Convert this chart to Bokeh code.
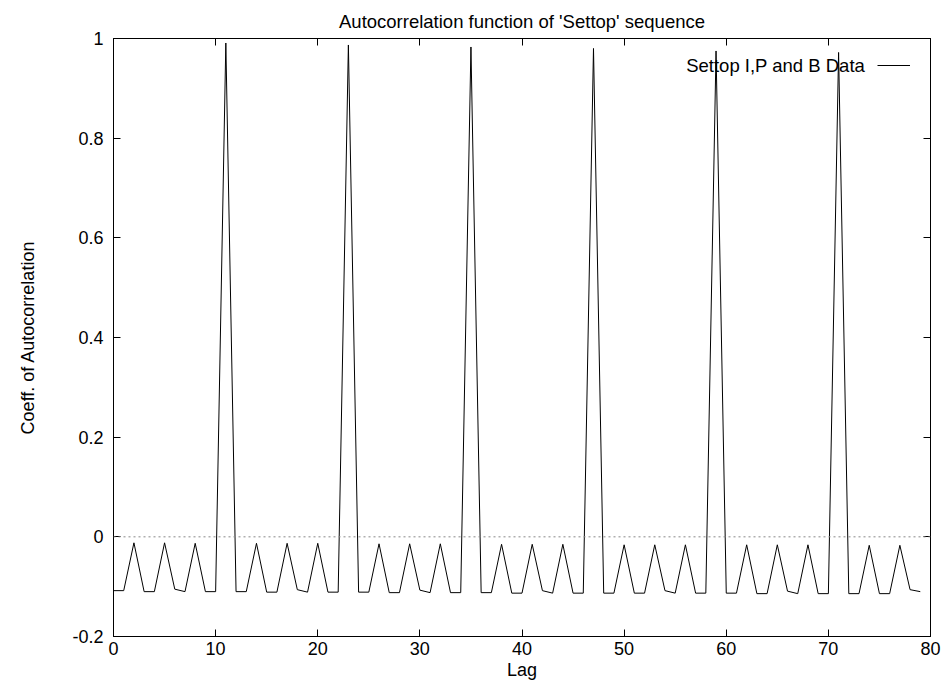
from bokeh.plotting import figure
from bokeh.models import (ColumnDataSource, Span, Legend, LegendItem, LinearAxis,
                          FixedTicker, PrintfTickFormatter, Range1d, Label)
from bokeh.embed import file_html
from bokeh.resources import INLINE

title_text = "Autocorrelation function of 'Settop' sequence"
x_label = "Lag"
y_label = "Coeff. of Autocorrelation"
series_name = "Settop I,P and B Data"

lags = list(range(80))
acf = [
    -0.108, -0.108, -0.012, -0.110, -0.110, -0.012, -0.105, -0.110, -0.013, -0.110,
    -0.110, 0.991, -0.110, -0.110, -0.013, -0.111, -0.111, -0.013, -0.106, -0.111,
    -0.013, -0.111, -0.111, 0.987, -0.111, -0.111, -0.014, -0.112, -0.112, -0.014,
    -0.107, -0.112, -0.014, -0.112, -0.112, 0.983, -0.112, -0.112, -0.015, -0.113,
    -0.113, -0.015, -0.108, -0.113, -0.015, -0.113, -0.113, 0.980, -0.113, -0.113,
    -0.016, -0.113, -0.113, -0.016, -0.108, -0.113, -0.016, -0.113, -0.113, 0.975,
    -0.113, -0.113, -0.016, -0.114, -0.114, -0.016, -0.109, -0.114, -0.016, -0.114,
    -0.114, 0.972, -0.114, -0.114, -0.017, -0.114, -0.114, -0.017, -0.106, -0.110,
]
x_ticks = [0, 10, 20, 30, 40, 50, 60, 70, 80]
y_ticks = [-0.2, 0, 0.2, 0.4, 0.6, 0.8, 1]

FONT = "Liberation Sans"
FS = "18px"

p = figure(width=943, height=683, output_backend="svg", toolbar_location=None,
           x_range=Range1d(0, 80), y_range=Range1d(-0.2, 1),
           min_border_left=113, min_border_right=13, min_border_top=38,
           min_border_bottom=47, background_fill_color="white",
           border_fill_color="white")
p.grid.visible = False
p.outline_line_color = "black"
p.outline_line_width = 1

p.title.text = title_text
p.title.align = "center"
p.title.text_font = FONT
p.title.text_font_size = "18.5px"
p.title.text_font_style = "normal"
p.title.text_color = "black"
p.title.standoff = 13

src = ColumnDataSource(dict(lag=lags, acf=acf))

zero = Span(location=0, dimension="width", line_color="#888888",
            line_dash="2 3", line_width=1)
p.add_layout(zero)

r = p.line("lag", "acf", source=src, line_color="black", line_width=1)

for ax in (p.xaxis[0], p.yaxis[0]):
    ax.major_tick_in = 7
    ax.major_tick_out = 0
    ax.minor_tick_in = 0
    ax.minor_tick_out = 0
    ax.axis_line_color = "black"
    ax.major_tick_line_color = "black"
    ax.major_label_text_font = FONT
    ax.major_label_text_font_size = FS
    ax.major_label_text_color = "black"
    ax.axis_label_text_font = FONT
    ax.axis_label_text_font_size = FS
    ax.axis_label_text_font_style = "normal"
    ax.axis_label_text_color = "black"

p.xaxis[0].ticker = FixedTicker(ticks=x_ticks)
p.yaxis[0].ticker = FixedTicker(ticks=y_ticks)
p.xaxis[0].formatter = PrintfTickFormatter(format="%g")
p.yaxis[0].formatter = PrintfTickFormatter(format="%g")
p.xaxis[0].axis_label = x_label
p.yaxis[0].axis_label = y_label
p.xaxis[0].major_label_standoff = 5
p.xaxis[0].axis_label_standoff = 2
p.yaxis[0].major_label_standoff = 10
p.yaxis[0].axis_label_standoff = 31

# mirrored ticks on top and right (no labels)
top_ax = LinearAxis(ticker=FixedTicker(ticks=x_ticks), major_tick_in=7,
                    major_tick_out=0, minor_tick_in=0, minor_tick_out=0,
                    formatter=PrintfTickFormatter(format=""),
                    major_label_standoff=0, axis_line_color="black")
right_ax = LinearAxis(ticker=FixedTicker(ticks=y_ticks), major_tick_in=7,
                      major_tick_out=0, minor_tick_in=0, minor_tick_out=0,
                      formatter=PrintfTickFormatter(format=""),
                      major_label_standoff=0, axis_line_color="black")
p.add_layout(top_ax, "above")
p.add_layout(right_ax, "right")

# legend: text on left, sample line on right (gnuplot style)
legend = Legend(items=[LegendItem(label=" ", renderers=[r])],
                location="top_right", border_line_alpha=0,
                background_fill_alpha=0, glyph_width=33, glyph_height=16,
                label_width=0, label_standoff=0, margin=0, padding=0,
                label_text_font=FONT, label_text_font_size=FS,
                spacing=0)
legend.location = (764, 563)
p.add_layout(legend)

lab = Label(x=73.6, y=0.946, text=series_name, text_align="right",
            text_baseline="middle", text_font=FONT, text_font_size="18.5px",
            text_color="black")
p.add_layout(lab)

open("out.html", "w").write(file_html(p, INLINE))
